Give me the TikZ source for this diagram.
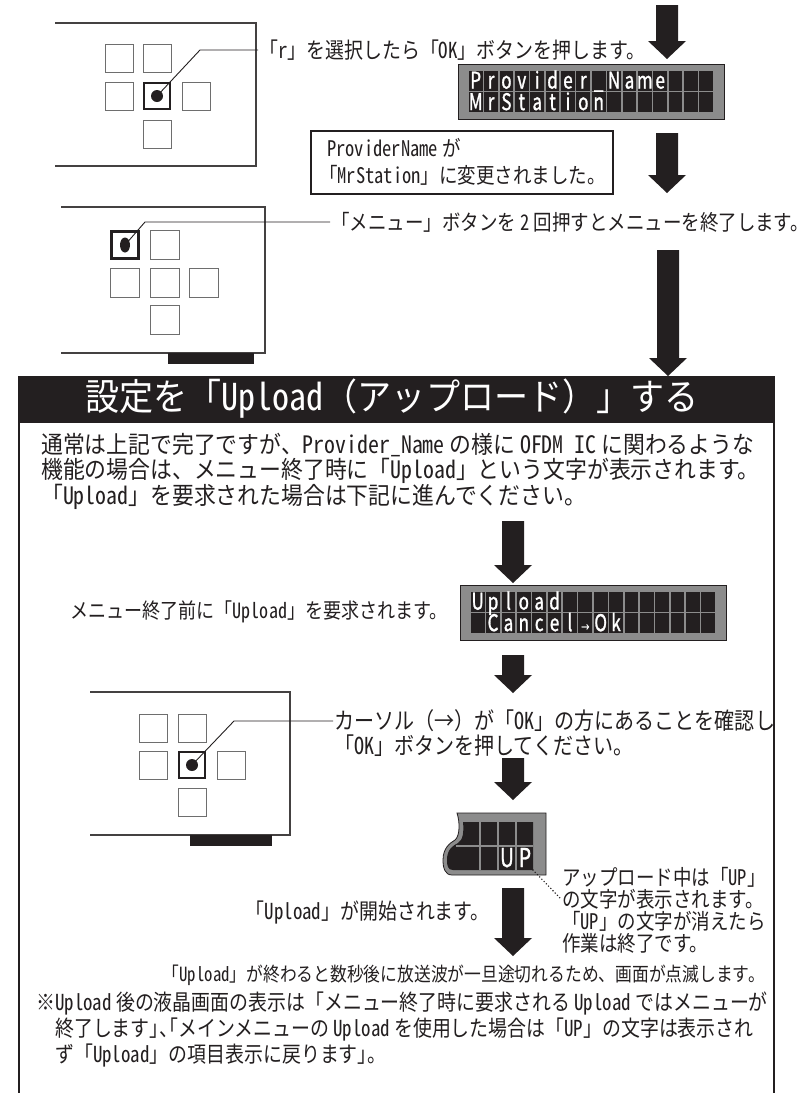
\documentclass[tikz,border=0pt]{standalone}
\usepackage{fontspec}
\usetikzlibrary{shapes.geometric}
\setmainfont{Noto Sans CJK JP}[FakeStretch=0.86]
\newfontfamily\hwf{Noto Sans CJK JP}[FakeStretch=0.86,CharacterWidth=Half]
\newfontfamily\plf{Noto Sans CJK JP}[FakeStretch=0.86,CharacterWidth=AlternateProportional]
\newfontfamily\bdf{Noto Sans CJK JP}[FakeStretch=0.91]
\newfontfamily\bdhw{Noto Sans CJK JP}[FakeStretch=0.91,CharacterWidth=Half]
\newfontfamily\hdf{Noto Sans CJK JP}[FakeStretch=0.92]
\newfontfamily\hdhw{Noto Sans CJK JP}[FakeStretch=0.92,CharacterWidth=Half]
\newfontfamily\lcdf{Noto Sans CJK JP}[FakeStretch=0.74,FakeBold=1.2]
\newcommand\hw[1]{{\hwf #1}}
\newcommand\bw[1]{{\bdhw #1}}
\newcommand\pl[1]{{\plf #1}}
\newcommand\fs[1]{\fontsize{#1}{#1}\selectfont}
\definecolor{ink}{HTML}{231F20}
\definecolor{lcdgray}{HTML}{8C8C8C}
\definecolor{btngray}{HTML}{6E6E6E}
\tikzset{
  devline/.style={draw=ink!85,line width=1.3pt},
  btn/.style={draw=btngray,line width=1pt,fill=white,minimum size=28pt,inner sep=0pt},
  btnsel/.style={draw=ink,line width=2.6pt,fill=white,minimum size=26pt,inner sep=0pt},
  dot/.style={circle,fill=ink,minimum size=12pt,inner sep=0pt},
  leader/.style={draw=ink,line width=0.9pt},
  ann/.style={inner sep=1pt,font=\fs{21.5},text=ink},
  body/.style={inner sep=0pt,font=\bdf\fs{24},text=ink,anchor=west},
  note/.style={inner sep=0pt,font=\fs{22},text=ink,anchor=west},
  lcdframe/.style={draw=ink,line width=0.8pt,fill=lcdgray,inner sep=0pt},
  lcdch/.style={text=white,inner sep=0pt,anchor=base,font=\lcdf\fs{23}},
  foot/.style={fill=ink},
}
% block arrow: x, y top, y tip
\newcommand\blkarrow[3]{%
  \fill[ink] ({#1-11},#2) -- ({#1+11},#2) -- ({#1+11},{#3-18}) -- ({#1+19},{#3-18})
    -- (#1,#3) -- ({#1-19},{#3-18}) -- ({#1-11},{#3-18}) -- cycle;}
% LCD: name, x, y (top-left)
\newcommand\lcdpanel[3]{%
  \node[lcdframe,minimum width=266pt,minimum height=55pt,anchor=north west] (#1) at (#2,#3) {};
  \foreach \i in {0,...,15}{\foreach \j in {0,1}{
    \fill[ink] ({#2+10+\i*15.375+0.8},{#3+6+\j*21.5+0.8}) rectangle ++(13.8,19.9);}}}
% LCD text: name, x, y, row, startcol, chars
\newcommand\lcdtext[6]{%
  \foreach \c [count=\k from 0] in {#6}{
    \node[lcdch] (#1r#4c\k) at ({#2+10+(#5+\k)*15.375+7.7},{#3+6+#4*21.5+18.6}) {\c};}}
\begin{document}
\begin{tikzpicture}[x=1pt,y=-1pt]
\useasboundingbox (0,0) rectangle (810,1093);
\fill[white] (0,0) rectangle (810,1093);

% ---------- device 1 ----------
\draw[devline] (55,23) -- (256,23) -- (256,166) -- (55,166);
\node[btn] (a1) at (119,58) {};
\node[btn] (a2) at (157,58) {};
\node[btn] (a3) at (119,96) {};
\node[btnsel] (a4) at (157,96) {};
\node[btn] (a5) at (196,96) {};
\node[btn] (a6) at (157,134) {};
\node[dot] (ad) at (157,96) {};
\node[ann,anchor=west,font=\fs{22}] (t1) at (258,50) {「\hw{r}」を選択したら「\hw{OK}」ボタンを押します。};
\draw[leader] (ad.center) -- (200,50) -- (t1.west);

% LCD 1
\lcdpanel{lcdA}{458}{64}
\lcdtext{lcdA}{458}{64}{0}{0}{P,r,o,v,i,d,e,r,\_,N,a,m,e}
\lcdtext{lcdA}{458}{64}{1}{0}{M,r,S,t,a,t,i,o,n}

\blkarrow{667}{5}{59}

% box
\node[draw=ink,line width=2pt,minimum width=302pt,minimum height=63pt,anchor=north west,
  inner sep=0pt] (box1) at (310,130) {};
\node[ann,anchor=west] (bx1) at (326,148) {\hw{ProviderName} が};
\node[ann,anchor=west] (bx2) at (318,175) {「\hw{MrStation}」に変更されました。};

\blkarrow{667}{133}{193}

% ---------- device 2 ----------
\draw[devline] (61,207) -- (265,207) -- (265,353) -- (61,353);
\fill[foot] (168,353) rectangle (254,364);
\node[btnsel,minimum size=27pt] (b1) at (125,245) {};
\node[btn,minimum size=29pt] (b2) at (165,245) {};
\node[btn,minimum size=29pt] (b3) at (125,283) {};
\node[btn,minimum size=29pt] (b4) at (165,283) {};
\node[btn,minimum size=29pt] (b5) at (204,283) {};
\node[btn,minimum size=29pt] (b6) at (165,320) {};
\node[ellipse,fill=ink,minimum width=10pt,minimum height=15pt,inner sep=0pt] (bd) at (125,245) {};
\node[ann,anchor=west,font=\fs{21.5}] (t2) at (330,222) {「メニュー」ボタンを \hw{2} 回押すとメニューを終了します。};
\draw[leader] (bd.center) -- (145,222) -- (t2.west);

\blkarrow{668}{250}{376}

% ---------- header & frame ----------
\draw[ink,line width=2pt] (19,415) -- (19,1093);
\draw[ink,line width=2pt] (774,415) -- (774,1093);
\node[fill=ink,minimum width=757pt,minimum height=47pt,anchor=north west,inner sep=0pt] (hdr) at (18,376) {};
\node[text=white,inner sep=0pt,font=\hdf\fs{37}] (hdrt) at (392,399)
  {設定を「{\hdhw Upload}（アップロード）」する};

\node[body] (p1) at (41,445) {通常は上記で完了ですが、\bw{Provider\_Name} の様に \bw{OFDM IC} に関わるような};
\node[body] (p2) at (41,471) {機能の場合は、メニュー終了時に「\bw{Upload}」という文字が表示されます。};
\node[body] (p3) at (41,497) {「\bw{Upload}」を要求された場合は下記に進んでください。};

\blkarrow{513}{521}{583}

% LCD 2
\node[ann,anchor=east,font=\fs{21}] (t3) at (449,612) {メニュー終了前に「\hw{Upload}」を要求されます。};
\lcdpanel{lcdB}{460}{585}
\lcdtext{lcdB}{460}{585}{0}{0}{U,p,l,o,a,d}
\lcdtext{lcdB}{460}{585}{1}{1}{C,a,n,c,e,l,{\fs{11}→},O,k}

\blkarrow{513}{655}{693}

% ---------- device 3 ----------
\draw[devline] (90,692) -- (290,692) -- (290,835) -- (90,835);
\fill[foot] (190,835) rectangle (272,846);
\node[btn] (c1) at (153,728) {};
\node[btn] (c2) at (192,728) {};
\node[btn] (c3) at (153,765) {};
\node[btnsel] (c4) at (192,765) {};
\node[btn] (c5) at (231,765) {};
\node[btn] (c6) at (192,802) {};
\node[dot] (cd) at (192,765) {};
\node[ann,anchor=west,font=\fs{23.3}] (t4) at (333,721) {カーソル（→）が「\hw{OK}」の方にあることを確認し};
\node[ann,anchor=west,font=\fs{23.3}] (t4b) at (333,746) {「\hw{OK}」ボタンを押してください。};
\draw[leader] (cd.center) -- (234,721) -- (t4.west);

\blkarrow{513}{758}{800}

% ---------- LCD 3 fragment ----------
\fill[lcdgray,draw=ink,line width=0.8pt] (457,813) -- (546,813) -- (546,875) -- (452,875)
  .. controls (445,875) and (443,868) .. (443,860)
  .. controls (443,848) and (450,843) .. (455,840)
  .. controls (460,836) and (460,822) .. (457,813) -- cycle;
\fill[ink] (463,822) -- (533,822) -- (533,870) -- (453,870)
  .. controls (448,870) and (447,866) .. (447,860)
  .. controls (447,850) and (452,846) .. (458,843)
  .. controls (463,840) and (464,832) .. (463,822) -- cycle;
\draw[lcdgray,line width=1.6pt] (480,822) -- (480,870) (498,822) -- (498,870) (516,822) -- (516,870)
  (456,846) -- (533,846);
\node[lcdch,font=\lcdf\fs{26}] (up1) at (507,867) {U};
\node[lcdch,font=\lcdf\fs{26}] (up2) at (525,867) {P};
\coordinate (lcdCc) at (533,870);
\node[ann,anchor=west] (t5a) at (561,877) {アップロード中は「\hw{UP}」};
\node[ann,anchor=west] (t5b) at (561,899) {の文字が表示されます。};
\node[ann,anchor=west] (t5c) at (561,921) {「\hw{UP}」の文字が消えたら};
\node[ann,anchor=west] (t5d) at (561,943) {作業は終了です。};
\draw[ink,line width=1.6pt,line cap=round,dash pattern=on 0pt off 3.2pt] (lcdCc) -- (t5b.west);

\blkarrow{513}{888}{956}
\node[ann,anchor=east,font=\fs{22}] (t6) at (491,913) {「\hw{Upload}」が開始されます。};

\node[ann,anchor=east,font=\fs{19.5}] (t7) at (766,975) {「\hw{Upload}」が終わると数秒後に放送波が一旦途切れるため、画面が点滅します。};
\node[note] (n1) at (36,1004) {※\hw{Upload} 後の液晶画面の表示は「メニュー終了時に要求される \hw{Upload} ではメニューが};
\node[note] (n2) at (55,1030) {終了します\pl{」、「}メインメニューの \hw{Upload} を使用した場合は「\hw{UP}」の文字は表示され};
\node[note] (n3) at (55,1056) {ず「\hw{Upload}」の項目表示に戻ります\pl{」。}};
\end{tikzpicture}
\end{document}
